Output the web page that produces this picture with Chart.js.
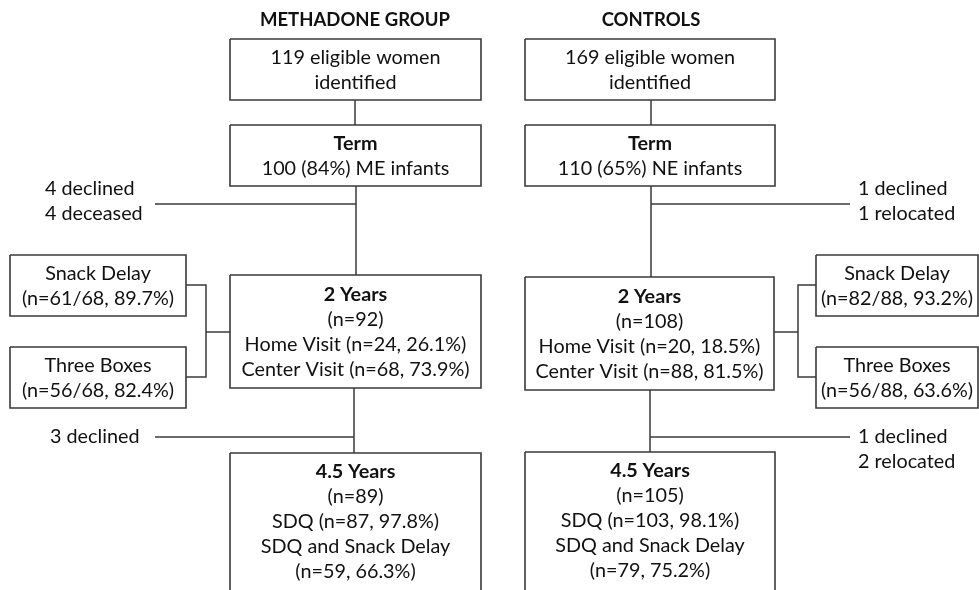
<!DOCTYPE html>
<html>
<head>
<meta charset="utf-8">
<script src="https://cdn.jsdelivr.net/npm/chart.js@4/dist/chart.umd.min.js"></script>
<style>
html,body{margin:0;padding:0;background:#fff;}
#wrap{width:979px;height:590px;position:relative;}
</style>
</head>
<body>
<div id="wrap"><canvas id="c" width="979" height="590"></canvas></div>
<script>
// ---- content (text) ----
const groupTitles = ["METHADONE GROUP", "CONTROLS"];
const eligible = ["119 eligible women|identified", "169 eligible women|identified"];
const termLines = ["*Term|100 (84%) ME infants", "*Term|110 (65%) NE infants"];
const twoYears = ["*2 Years|(n=92)|Home Visit (n=24, 26.1%)|Center Visit (n=68, 73.9%)",
                  "*2 Years|(n=108)|Home Visit (n=20, 18.5%)|Center Visit (n=88, 81.5%)"];
const snackDelay = ["Snack Delay|(n=61/68, 89.7%)", "Snack Delay|(n=82/88, 93.2%)"];
const threeBoxes = ["Three Boxes|(n=56/68, 82.4%)", "Three Boxes|(n=56/88, 63.6%)"];
const fourHalfYears = ["*4.5 Years|(n=89)|SDQ (n=87, 97.8%)|SDQ and Snack Delay|(n=59, 66.3%)",
                       "*4.5 Years|(n=105)|SDQ (n=103, 98.1%)|SDQ and Snack Delay|(n=79, 75.2%)"];
const lossTerm = ["4 declined|4 deceased", "1 declined|1 relocated"];
const loss2y = ["3 declined", "1 declined|2 relocated"];

// ---- layout (diagram coordinates, px units of the diagram) ----
const boxLayout = [
  // [x1, y1, x2, y2, text]
  [230, 39, 481, 100, eligible[0]],
  [230, 125, 481, 186, termLines[0]],
  [230, 275, 481, 388, twoYears[0]],
  [10, 255, 186, 316, snackDelay[0]],
  [10, 347, 186, 408, threeBoxes[0]],
  [230, 453, 481, 600, fourHalfYears[0]],
  [525, 39, 775, 100, eligible[1]],
  [525, 125, 775, 186, termLines[1]],
  [525, 277, 774, 390, twoYears[1]],
  [816, 255, 978, 316, snackDelay[1]],
  [816, 347, 978, 408, threeBoxes[1]],
  [525, 452, 775, 600, fourHalfYears[1]]
];
const connectors = [
  [[355,100],[355,125]],
  [[356,186],[356,275]],
  [[155,204],[356,204]],
  [[186,285],[206,285],[206,377],[186,377]],
  [[206,332],[230,332]],
  [[354,388],[354,453]],
  [[155,437],[354,437]],
  [[651,100],[651,125]],
  [[651,186],[651,277]],
  [[651,204],[850,204]],
  [[774,332],[798,332]],
  [[816,285],[798,285],[798,377],[816,377]],
  [[650,390],[650,452]],
  [[650,437],[850,437]]
];
const freeText = [
  // [x, yFirstLine, align, text]
  [45, 189, "left", lossTerm[0]],
  [858, 189, "left", lossTerm[1]],
  [50, 437, "left", loss2y[0]],
  [858, 437, "left", loss2y[1]],
  [355, 20, "center", "^" + groupTitles[0]],
  [651, 20, "center", "^" + groupTitles[1]]
];

const LINE_COLOR = "#3a3a3a";
const TEXT_COLOR = "#111111";
const FONT = "Lato, 'Open Sans', sans-serif";
const FS = 19.8;
const TITLE_FS = 18.5;
const LH = 25;

const datasets = [];
boxLayout.forEach(b => {
  const [x1,y1,x2,y2] = b;
  datasets.push({data:[{x:x1,y:y1},{x:x2,y:y1},{x:x2,y:y2},{x:x1,y:y2},{x:x1,y:y1}],
    showLine:true, borderColor:LINE_COLOR, borderWidth:1.6, pointRadius:0, fill:false, clip:false, tension:0});
});
connectors.forEach(c => {
  datasets.push({data:c.map(p=>({x:p[0],y:p[1]})),
    showLine:true, borderColor:LINE_COLOR, borderWidth:1.5, pointRadius:0, fill:false, clip:false, tension:0});
});

function drawLines(ctx, xs, ys, px, py, text, align) {
  const lines = text.split("|");
  lines.forEach((ln, i) => {
    let font = FS + "px " + FONT;
    if (ln.startsWith("*")) { font = "bold " + FS + "px " + FONT; ln = ln.slice(1); }
    else if (ln.startsWith("^")) { font = "bold " + TITLE_FS + "px " + FONT; ln = ln.slice(1); }
    ctx.font = font;
    ctx.textAlign = align;
    ctx.textBaseline = "middle";
    ctx.fillStyle = TEXT_COLOR;
    ctx.fillText(ln, xs.getPixelForValue(px), ys.getPixelForValue(py + i*LH));
  });
}

const textPlugin = {
  id: "flowText",
  afterDatasetsDraw(chart) {
    const ctx = chart.ctx;
    const xs = chart.scales.x, ys = chart.scales.y;
    ctx.save();
    boxLayout.forEach(b => {
      const [x1,y1,x2,y2,t] = b;
      const n = t.split("|").length;
      const cx = (x1+x2)/2;
      let firstY;
      if (y2 > 590) firstY = y1 + 18.5;
      else firstY = y1 + (y2-y1)/2 - (n-1)*LH/2 + 0.5;
      drawLines(ctx, xs, ys, cx, firstY, t, "center");
    });
    freeText.forEach(f => {
      drawLines(ctx, xs, ys, f[0], f[1], f[3], f[2]);
    });
    ctx.restore();
  }
};

new Chart(document.getElementById("c"), {
  type: "scatter",
  data: { datasets },
  options: {
    responsive: false,
    animation: false,
    events: [],
    layout: { padding: 0 },
    plugins: { legend: {display:false}, tooltip: {enabled:false}, title:{display:false} },
    scales: {
      x: { type:"linear", min:0, max:979, display:false },
      y: { type:"linear", min:0, max:590, reverse:true, display:false }
    }
  },
  plugins: [textPlugin]
});
</script>
</body>
</html>
